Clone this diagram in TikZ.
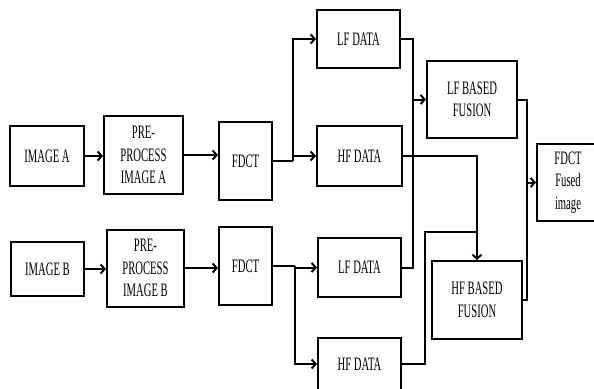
\documentclass[tikz,border=0pt]{standalone}
\usepackage{fontspec}
\setmainfont[FakeStretch=0.56]{Liberation Serif}
\usetikzlibrary{arrows.meta}
\begin{document}
\begin{tikzpicture}[x=1pt,y=-1pt,
  blk/.style={draw,line width=2pt,rectangle,inner sep=0pt,align=center,
    font=\fontsize{19pt}{22.5pt}\selectfont},
  conn/.style={line width=2pt},
  arr/.style={conn,-{Straight Barb[length=4pt,width=9pt,line width=2pt]}}]
\useasboundingbox (0,0) rectangle (594,388);
\node[blk,minimum width=74pt,minimum height=60pt] (imgA) at (47,156) {IMAGE A};
\node[blk,minimum width=79pt,minimum height=78pt] (preA) at (143.5,155) {PRE-\\PROCESS\\IMAGE A};
\node[blk,minimum width=53pt,minimum height=78pt] (fdctA) at (245.5,161) {FDCT};
\node[blk,minimum width=73pt,minimum height=54pt] (imgB) at (47.5,269) {IMAGE B};
\node[blk,minimum width=77pt,minimum height=77pt] (preB) at (145.5,268) {PRE-\\PROCESS\\IMAGE B};
\node[blk,minimum width=53pt,minimum height=78pt] (fdctB) at (245.5,266) {FDCT};
\node[blk,minimum width=83pt,minimum height=58pt] (lfA) at (358.5,39) {LF DATA};
\node[blk,minimum width=85pt,minimum height=60pt] (hfA) at (359.5,156) {HF DATA};
\node[blk,minimum width=83pt,minimum height=59pt] (lfB) at (359.5,267.5) {LF DATA};
\node[blk,minimum width=83pt,minimum height=52pt] (hfB) at (359.5,364) {HF DATA};
\node[blk,minimum width=90pt,minimum height=77pt] (lfF) at (472,99.5) {LF BASED\\FUSION};
\node[blk,minimum width=90pt,minimum height=78pt] (hfF) at (477,300) {HF BASED\\FUSION};
\node[blk,minimum width=62pt,minimum height=77pt] (fused) at (568,182.5) {FDCT\\Fused\\image};
% left chain
\draw[arr] (imgA.east) -- (imgA.east -| preA.west);
\draw[arr] (preA.east) -- (preA.east -| fdctA.west);
\draw[arr] (imgB.east) -- (imgB.east -| preB.west);
\draw[arr] (preB.east) -- (preB.east -| fdctB.west);
% branches
\coordinate (ja) at (293,161);
\draw[conn] (fdctA.east) -- (ja);
\draw[arr] (ja) |- (lfA.west);
\draw[arr] (ja) |- (hfA.west);
\coordinate (jb) at (295,266);
\draw[conn] (fdctB.east) -- (jb);
\draw[arr] (jb) |- (lfB.west);
\draw[arr] (jb) |- (hfB.west);
% LF fusion
\coordinate (jl) at (413,99.5);
\draw[arr] (lfA.east) -| (jl) -- (lfF.west);
\draw[conn] (lfB.east) -| (jl);
% HF fusion
\coordinate (jh) at (477,232);
\draw[arr] (hfA.east) -| (hfF.north);
\draw[conn] (hfB.east) -- (425,364) -- (425,232) -- (jh);
% final
\coordinate (jf) at (527,182.5);
\draw[arr] (lfF.east) -| (jf) -- (fused.west);
\draw[conn] (hfF.east) -| (jf);
\end{tikzpicture}
\end{document}
